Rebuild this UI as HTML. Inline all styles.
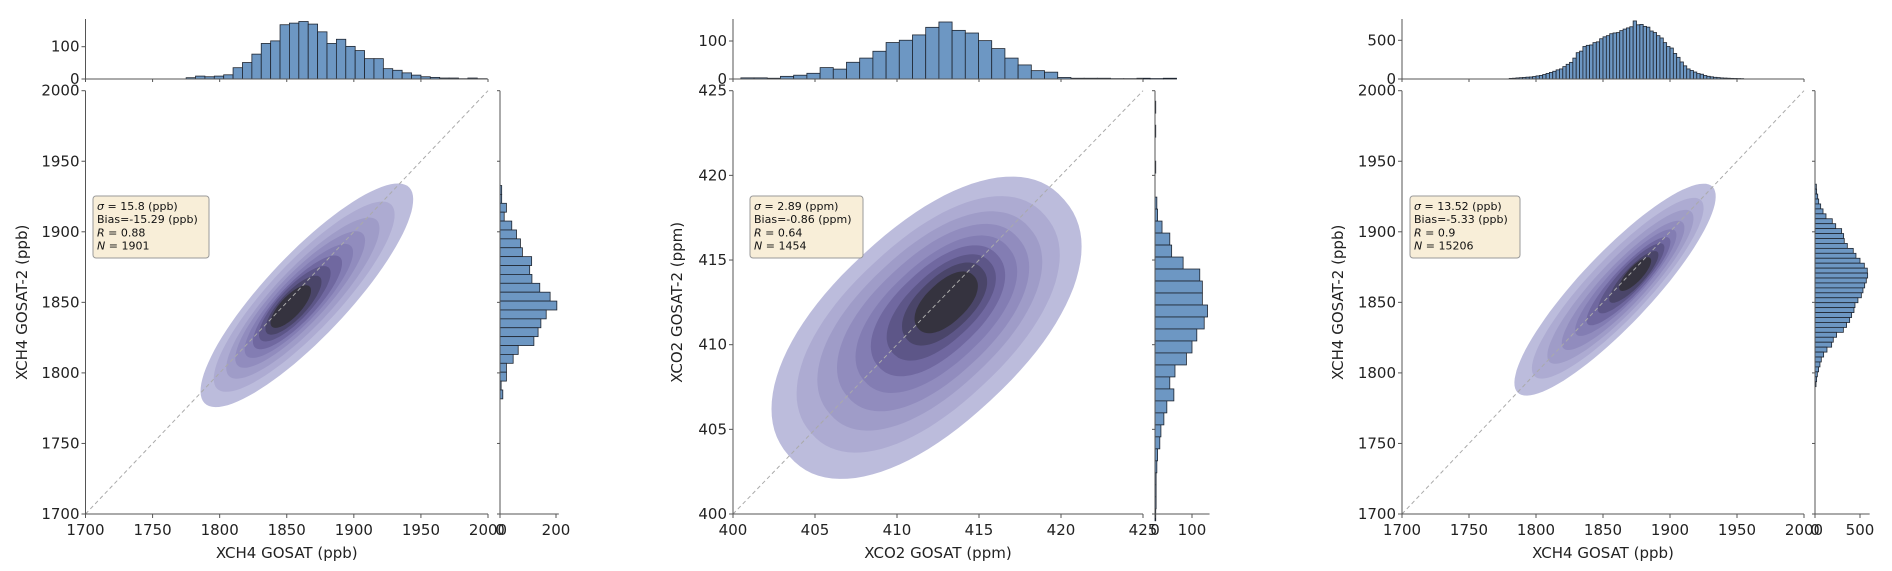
<!DOCTYPE html>
<html><head><meta charset="utf-8"><style>
html,body{margin:0;padding:0;background:#fff;}
svg{display:block;font-family:"DejaVu Sans","Liberation Sans",sans-serif;}
</style></head><body>
<svg id="fig" width="1892" height="571" viewBox="0 0 1892 571" xmlns="http://www.w3.org/2000/svg"></svg>
<script>
// ---------- data ----------
const p1TopCounts=[4,9,7,9,13,35,51,77,110,118,168,173,178,170,146,110,123,101,88,63,63,32,27,19,12,7,5,3,3,1,3,1];
const p1TopStart=1775, p1TopBin=7;
const p1RightCounts=[6,6,23,15,42,59,73,80,113,106,114,142,179,203,165,146,136,121,65,47,23,23,4,10];
const p1RightTop=1932.8, p1RightBin=6.3;
const p2TopCounts=[3,3,2,7,10,15,30,26,44,55,73,96,102,116,136,150,128,121,101,80,55,37,22,18,4,2,2,2,1,1,2,1,2];
const p2TopStart=400.48, p2TopBin=0.805;
const p2RightCounts=[2,0,2,0,0,2,0,0,5,7,19,40,45,76,121,128,128,142,133,113,100,85,54,40,51,32,24,16,13,7,5,3,3,3,2];
const p2RightTop=424.38, p2RightBin=0.708;
const p3TopCounts=[8,10,14,17,20,24,26,32,40,46,58,72,85,100,118,130,160,190,215,270,340,360,420,435,440,470,480,520,545,560,585,595,600,625,645,660,675,750,700,705,680,670,620,600,560,530,470,420,400,330,280,220,170,130,110,90,70,62,45,35,28,22,18,14,12,10,8,7,6,5];
const p3TopStart=1780, p3TopBin=2.5;
const p3RightCounts=[15,18,30,41,63,89,122,192,230,296,318,325,359,425,455,500,548,581,585,570,552,533,515,477,444,433,407,385,351,315,240,203,185,133,96,70,55,40,26,18,11];
const p3RightTop=1933.75, p3RightBin=3.5;
// KDE contour levels (data units)
const p1LevelCx=[1865,1863,1862,1860,1859,1858,1856,1855,1853];
const p1LevelCy=[1855,1854,1853,1852,1851,1850,1849,1848,1847];
const p1LevelA=[108,92,78,66,55,45,36,28,20];
const p1LevelB=[30,25,21,18,15.5,13.5,11.5,9.5,7.5];
const p2LevelCx=[411.8,411.9,412.0,412.2,412.4,412.5,412.7,412.9,413.0];
const p2LevelCy=[411.0,411.2,411.4,411.6,411.8,412.0,412.2,412.4,412.5];
const p2LevelA=[11.3,9.6,8.2,7.0,5.9,4.9,4.0,3.1,2.3];
const p2LevelB=[5.8,4.9,4.2,3.6,3.0,2.5,2.0,1.6,1.2];
const p3LevelCx=[1859,1861,1863,1865,1867,1869,1871,1873,1874];
const p3LevelCy=[1859,1860,1861,1862,1864,1865,1867,1868,1870];
const p3LevelA=[103,88,75,63,52,43,34,25,16];
const p3LevelB=[26,21.5,18,15,12.5,10.5,8.8,7,5.4];
const p1Ticks=[1700,1750,1800,1850,1900,1950,2000];
const p2Ticks=[400,405,410,415,420,425];
const p1Stats=["15.8 (ppb)","Bias=-15.29 (ppb)","0.88","1901"];
const p2Stats=["2.89 (ppm)","Bias=-0.86 (ppm)","0.64","1454"];
const p3Stats=["13.52 (ppb)","Bias=-5.33 (ppb)","0.9","15206"];
const levelColors=['#bcbcdc','#adabd2','#9f9cc8','#918cbe','#837db3','#7068a0','#5d5688','#4a4569','#35333f'];

const NS="http://www.w3.org/2000/svg";
const svg=document.getElementById('fig');
function mk(tag,attrs,parent){const e=document.createElementNS(NS,tag);for(const k in attrs)e.setAttribute(k,attrs[k]);(parent||svg).appendChild(e);return e;}

const Y0=514, Y1=90.7, HB=79, AX='#555';

function panel(id,cfg){
  const g=mk('g',{});
  
  
  const X=v=>cfg.x0+(v-cfg.min)/(cfg.max-cfg.min)*(cfg.x1-cfg.x0);
  const Y=v=>Y0-(v-cfg.min)/(cfg.max-cfg.min)*(Y0-Y1);
  for(let i=0;i<cfg.la.length;i++){
    const th=cfg.ang*Math.PI/180;let d='';
    for(let k=0;k<=96;k++){
      const t=k/96*2*Math.PI;const c=Math.cos(t),s=Math.sin(t);
      const cu=Math.sign(c)*Math.pow(Math.abs(c),2/cfg.pw),su=Math.sign(s)*Math.pow(Math.abs(s),2/cfg.pw);
      const u=cfg.la[i]*cu,w=cfg.lb[i]*su;
      const vx=cfg.lcx[i]+u*Math.cos(th)-w*Math.sin(th);
      const vy=cfg.lcy[i]+u*Math.sin(th)+w*Math.cos(th);
      d+=(k?'L':'M')+X(vx).toFixed(1)+','+Y(vy).toFixed(1);
    }
    const p=mk('path',{d:d+'Z',fill:levelColors[i]},g);
    
    
  }
  const ln=mk('line',{x1:X(cfg.min),y1:Y(cfg.min),x2:X(cfg.max),y2:Y(cfg.max),stroke:'#aaa','stroke-width':1,'stroke-dasharray':'4,3'},g);
  
  
  const sp=mk('path',{d:`M${cfg.x0},${Y1}V${Y0}H${cfg.x1}`,fill:'none',stroke:AX,'stroke-width':1},g);
  
  
  cfg.ticks.forEach(t=>{
    mk('line',{x1:X(t),x2:X(t),y1:Y0,y2:Y0+4,stroke:AX},g);
    const tx=mk('text',{x:X(t),y:Y0+21,'text-anchor':'middle','font-size':15,fill:'#222'},g);
    tx.textContent=t;
    
    
    mk('line',{x1:cfg.x0-4,x2:cfg.x0,y1:Y(t),y2:Y(t),stroke:AX},g);
    const ty=mk('text',{x:cfg.x0-6,y:Y(t)+5,'text-anchor':'end','font-size':15,fill:'#222'},g);
    ty.textContent=t;
    
    
    mk('line',{x1:X(t),x2:X(t),y1:HB,y2:HB+3,stroke:AX},g);
    mk('line',{x1:cfg.hx-3,x2:cfg.hx,y1:Y(t),y2:Y(t),stroke:AX},g);
  });
  const xl=mk('text',{x:(cfg.x0+cfg.x1)/2,y:558,'text-anchor':'middle','font-size':15,fill:'#222'},g);
  xl.textContent=cfg.xlab;
  
  
  const yl=mk('text',{x:0,y:0,'text-anchor':'middle','font-size':15,fill:'#222',transform:`translate(${cfg.ylx},${(Y0+Y1)/2}) rotate(-90)`},g);
  yl.textContent=cfg.ylab;
  
  
  cfg.tc.forEach((c,i)=>{
    const a=cfg.ts+i*cfg.tb,b=a+cfg.tb;
    if(c<=0)return;
    const r=mk('rect',{x:X(a),y:HB-c*cfg.tsc,width:X(b)-X(a),height:c*cfg.tsc,fill:'#6d97c3',stroke:'#1e2530','stroke-width':0.8},g);
    
    
  });
  const ta=mk('path',{d:`M${cfg.x0},19V${HB}H${cfg.x1}`,fill:'none',stroke:AX},g);
  
  
  cfg.tt.forEach(t=>{
    mk('line',{x1:cfg.x0-4,x2:cfg.x0,y1:HB-t*cfg.tsc,y2:HB-t*cfg.tsc,stroke:AX},g);
    const l=mk('text',{x:cfg.x0-6,y:HB-t*cfg.tsc+5,'text-anchor':'end','font-size':15,fill:'#222'},g);
    l.textContent=t;
    
    
  });
  let mx=0;
  cfg.rc.forEach((c,i)=>{
    const top=cfg.rt-i*cfg.rb,bot=top-cfg.rb;
    mx=Math.max(mx,c);
    if(c<=0)return;
    const r=mk('rect',{x:cfg.hx,y:Y(top),width:c*cfg.rsc,height:Y(bot)-Y(top),fill:'#6d97c3',stroke:'#1e2530','stroke-width':0.8},g);
    
    
  });
  const hend=Math.max(cfg.hx+mx*cfg.rsc,cfg.hx+cfg.rtt[cfg.rtt.length-1]*cfg.rsc)+2;
  const ra=mk('path',{d:`M${cfg.hx},${Y1}V${Y0}H${hend}`,fill:'none',stroke:AX},g);
  
  
  cfg.rtt.forEach(t=>{
    const xx=cfg.hx+t*cfg.rsc;
    mk('line',{x1:xx,x2:xx,y1:Y0,y2:Y0+4,stroke:AX},g);
    const l=mk('text',{x:xx,y:Y0+21,'text-anchor':'middle','font-size':15,fill:'#222'},g);
    l.textContent=t;
    
    
  });
  const bx=mk('rect',{x:cfg.bx,y:196,width:cfg.bw,height:62,rx:3,fill:'#f8eed8',stroke:'#9a9a9a','stroke-width':1},g);
  
  
  const labs=[['σ',' = '+cfg.st[0]],['',cfg.st[1]],['R',' = '+cfg.st[2]],['N',' = '+cfg.st[3]]];
  labs.forEach((p,i)=>{
    const t=mk('text',{x:cfg.bx+4,y:210+i*13.2,'font-size':11,fill:'#111'},g);
    
    
    if(p[0]){const s=mk('tspan',{'font-style':'italic'},t);s.textContent=p[0];}
    const s2=mk('tspan',{},t);s2.textContent=p[1];
  });
}

panel('panel-xch4-gosat2',{x0:85.5,x1:488,min:1700,max:2000,ticks:p1Ticks,hx:500,rsc:0.28,tsc:0.323,
  tc:p1TopCounts,ts:p1TopStart,tb:p1TopBin,tt:[0,100],rc:p1RightCounts,rt:p1RightTop,rb:p1RightBin,rtt:[0,200],
  lcx:p1LevelCx,lcy:p1LevelCy,la:p1LevelA,lb:p1LevelB,ang:45,pw:2,
  xlab:'XCH4 GOSAT (ppb)',ylab:'XCH4 GOSAT-2 (ppb)',ylx:27,bx:93,bw:116,st:p1Stats});
panel('panel-xco2-gosat2',{x0:733,x1:1143,min:400,max:425,ticks:p2Ticks,hx:1155,rsc:0.37,tsc:0.38,
  tc:p2TopCounts,ts:p2TopStart,tb:p2TopBin,tt:[0,100],rc:p2RightCounts,rt:p2RightTop,rb:p2RightBin,rtt:[0,100],
  lcx:p2LevelCx,lcy:p2LevelCy,la:p2LevelA,lb:p2LevelB,ang:42,pw:2.2,
  xlab:'XCO2 GOSAT (ppm)',ylab:'XCO2 GOSAT-2 (ppm)',ylx:682,bx:750,bw:113,st:p2Stats});
panel('panel-xch4-gosat2-all',{x0:1402,x1:1804,min:1700,max:2000,ticks:p1Ticks,hx:1815,rsc:0.09,tsc:0.0774,
  tc:p3TopCounts,ts:p3TopStart,tb:p3TopBin,tt:[0,500],rc:p3RightCounts,rt:p3RightTop,rb:p3RightBin,rtt:[0,500],
  lcx:p3LevelCx,lcy:p3LevelCy,la:p3LevelA,lb:p3LevelB,ang:45,pw:2,
  xlab:'XCH4 GOSAT (ppb)',ylab:'XCH4 GOSAT-2 (ppb)',ylx:1343,bx:1410,bw:110,st:p3Stats});
</script>
</body></html>
